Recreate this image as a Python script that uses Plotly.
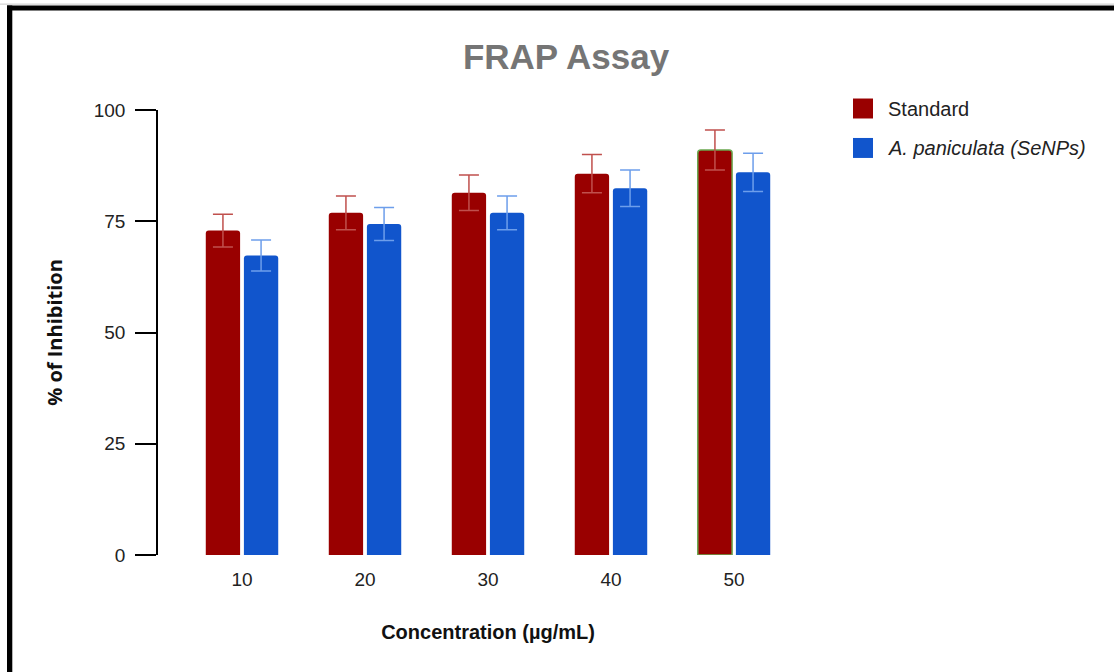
import plotly.graph_objects as go

categories = ["10", "20", "30", "40", "50"]
standard = [72.9, 76.9, 81.4, 85.7, 91.0]
standard_err = [3.7, 3.8, 4.0, 4.3, 4.5]
senps = [67.3, 74.4, 76.9, 82.4, 86.0]
senps_err = [3.5, 3.7, 3.8, 4.1, 4.3]
series_names = ["Standard", "<i>A. paniculata (SeNPs)</i>"]

RED = "#990000"
BLUE = "#1155cc"
RED_ERR = "#c0504d"
BLUE_ERR = "#6d9eeb"

FONT = "Liberation Sans, Arial, sans-serif"

xpos = list(range(len(categories)))

fig = go.Figure()
fig.add_trace(go.Bar(
    x=xpos, y=standard, name="Standard",
    marker=dict(color=RED,
                line=dict(color=[RED, RED, RED, RED, "#6aa84f"], width=[0, 0, 0, 0, 1.5])),
    error_y=dict(type="data", array=standard_err, color=RED_ERR, thickness=1.5, width=10),
    showlegend=False,
))
fig.add_trace(go.Bar(
    x=xpos, y=senps, name="A. paniculata (SeNPs)",
    marker=dict(color=BLUE, line=dict(width=0)),
    error_y=dict(type="data", array=senps_err, color=BLUE_ERR, thickness=1.5, width=10),
    showlegend=False,
))

W, H = 1114, 672
L, R, T, B = 158, 296, 109.5, 117
pw, ph = W - L - R, H - T - B

def px_x(x):
    return (x - L) / pw

def px_y(y):
    return (H - B - y) / ph

shapes = []
# frame
shapes.append(dict(type="line", xref="paper", yref="paper", x0=px_x(0), x1=px_x(W),
                   y0=px_y(3.5), y1=px_y(3.5), line=dict(color="#c8c8c8", width=1)))
shapes.append(dict(type="rect", xref="paper", yref="paper", x0=px_x(7), x1=px_x(W + 5),
                   y0=px_y(10), y1=px_y(5), fillcolor="black", line=dict(width=0)))
shapes.append(dict(type="rect", xref="paper", yref="paper", x0=px_x(7), x1=px_x(12.3),
                   y0=px_y(H + 5), y1=px_y(5), fillcolor="black", line=dict(width=0)))

# manual legend
annotations = []
legend_colors = [RED, BLUE]
for i, (nm, col) in enumerate(zip(series_names, legend_colors)):
    yc = 108 + i * 39.5
    shapes.append(dict(type="rect", xref="paper", yref="paper",
                       x0=px_x(853), x1=px_x(873), y0=px_y(yc + 10), y1=px_y(yc - 10),
                       fillcolor=col, line=dict(width=0)))
    annotations.append(dict(text=nm, xref="paper", yref="paper", x=px_x(886), y=px_y(yc),
                            xanchor="left", yanchor="middle", showarrow=False,
                            font=dict(family=FONT, size=20, color="#222222")))

fig.update_layout(
    width=W, height=H,
    margin=dict(l=L, r=R, t=T, b=B),
    paper_bgcolor="white", plot_bgcolor="white",
    barmode="group", bargap=0.38, bargroupgap=0.1, barcornerradius=3,
    title=dict(text="<b>FRAP Assay</b>", x=566 / W, xanchor="center", y=1 - 57 / H, yanchor="middle",
               font=dict(family=FONT, size=35, color="#757575")),
    font=dict(family=FONT, size=19, color="#222222"),
    shapes=shapes, annotations=annotations,
)
fig.update_xaxes(
    tickmode="array", tickvals=xpos, ticktext=categories,
    range=[-0.683, 4.683], showline=False, showgrid=False, zeroline=False, ticks="",
    tickfont=dict(family=FONT, size=19, color="#222222"), ticklabelstandoff=11,
    title=dict(text="<b>Concentration (µg/mL)</b>", standoff=35,
               font=dict(family=FONT, size=20, color="#111111")),
)
fig.update_yaxes(
    range=[0, 100], tickvals=[0, 25, 50, 75, 100],
    showline=True, linecolor="black", linewidth=1.5, showgrid=False, zeroline=False,
    ticks="outside", ticklen=21, tickwidth=1.5, tickcolor="black",
    tickfont=dict(family=FONT, size=19, color="#222222"), ticklabelstandoff=6,
    title=dict(text="<b>% of Inhibition</b>", standoff=26,
               font=dict(family="Open Sans, Noto Sans", size=20, color="#111111")),
)

fig.write_html("out.html", config={"displayModeBar": False},
               post_script="document.body.style.margin='0';")
